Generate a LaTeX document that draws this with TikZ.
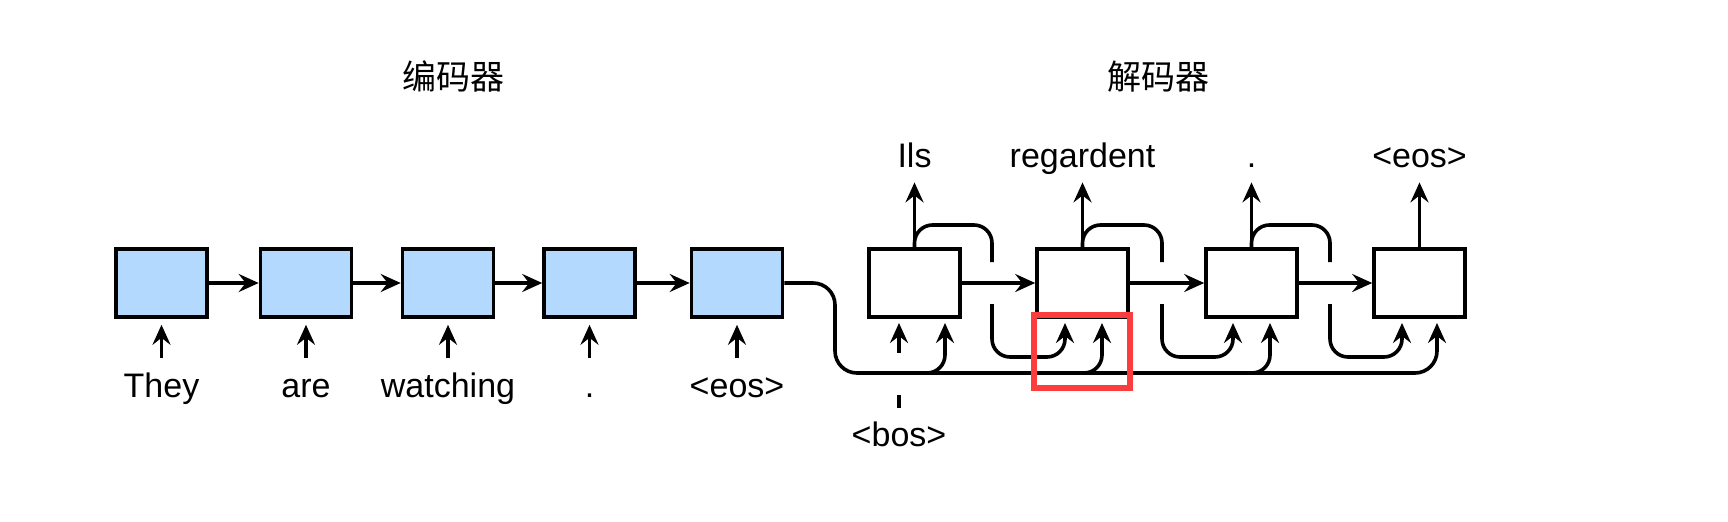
\documentclass[tikz,border=0pt]{standalone}
\usepackage{fontspec}
\setmainfont{Liberation Sans}
\newfontfamily\cjk{Noto Sans CJK SC}
\usetikzlibrary{arrows.meta}
\definecolor{encblue}{RGB}{179,217,255}
\definecolor{hlred}{RGB}{252,61,61}
\tikzset{
  arr/.style={-{Stealth[length=10pt,width=9pt,inset=3.5pt]}, line width=1.8pt},
  cell/.style={draw, line width=1.8pt, minimum width=45.5pt, minimum height=34pt, inner sep=0pt},
  word/.style={anchor=base, inner sep=0pt, text height=12pt, text depth=0pt, font=\fontsize{17pt}{20pt}\selectfont}
}

\begin{document}
\begin{tikzpicture}[x=0.5pt, y=0.5pt]
        \useasboundingbox (0,0) rectangle (1728,521);

        \begin{scope}[every node/.style={cell, fill=encblue}]
          \node (e1) at (161.5,238) {};
          \node (e2) at (306,238) {};
          \node (e3) at (448,238) {};
          \node (e4) at (589.5,238) {};
          \node (e5) at (737,238) {};
        \end{scope}

        \begin{scope}[every node/.style={cell, fill=white}]
          \node (d1) at (914.5,238) {};
          \node (d2) at (1082.5,238) {};
          \node (d3) at (1251.5,238) {};
          \node (d4) at (1419.5,238) {};
        \end{scope}

        \begin{scope}[every node/.style={word}]
          \node (w1) at (161.5,124) {They};
          \node (w2) at (306,124) {are};
          \node (w3) at (448,124) {watching};
          \node (w4) at (589.5,124) {.};
          \node (w5) at (737,124) {<eos>};
          \node (bos) at (899,75) {<bos>};
          \node (o1) at (914.5,354) {Ils};
          \node (o2) at (1082.5,354) {regardent};
          \node (o3) at (1251.5,354) {.};
          \node (o4) at (1419.5,354) {<eos>};
          \node[font=\cjk\fontsize{17pt}{20pt}\selectfont] (enc) at (453,432) {编码器};
          \node[font=\cjk\fontsize{17pt}{20pt}\selectfont] (dec) at (1158,432) {解码器};
        \end{scope}

        \coordinate (d1in1) at (899,198);
        \coordinate (d1in2) at (945,198);
        \coordinate (d2in1) at (1065,198);
        \coordinate (d2in2) at (1102,198);
        \coordinate (d3in1) at (1233,198);
        \coordinate (d3in2) at (1270,198);
        \coordinate (d4in1) at (1402,198);
        \coordinate (d4in2) at (1437,198);
        \coordinate (bus) at (835,148);

        \begin{scope}[every edge/.style={draw, arr}]
          \path (e1) edge (e2);
          \path (e2) edge (e3);
          \path (e3) edge (e4);
          \path (e4) edge (e5);
          \path (d1) edge (d2);
          \path (d2) edge (d3);
          \path (d3) edge (d4);
          \path (w1) edge[shorten <=7.5pt, shorten >=3pt] (e1);
          \path (w2) edge[shorten <=7.5pt, shorten >=3pt] (e2);
          \path (w3) edge[shorten <=7.5pt, shorten >=3pt] (e3);
          \path (w4) edge[shorten <=7.5pt, shorten >=3pt] (e4);
          \path (w5) edge[shorten <=7.5pt, shorten >=3pt] (e5);
          \path (d1) edge[shorten >=7.5pt] (o1);
          \path (d2) edge[shorten >=7.5pt] (o2);
          \path (d3) edge[shorten >=7.5pt] (o3);
          \path (d4) edge[shorten >=7.5pt] (o4);
        \end{scope}

        \begin{scope}[rounded corners=9pt]
          \draw[arr, rounded corners=11pt] (e5.east) -| (bus) -| (d4in2);
          \draw[arr] (d1in1 |- bus) -| (d1in2);
          \draw[arr] (d2in1 |- bus) -| (d2in2);
          \draw[arr] (d3in1 |- bus) -| (d3in2);
          \draw[arr] (d1.north) |- (992,296) -- (992,259) (992,217) -- (992,164) -| (d2in1);
          \draw[arr] (d2.north) |- (1162,296) -- (1162,259) (1162,217) -- (1162,164) -| (d3in1);
          \draw[arr] (d3.north) |- (1330,296) -- (1330,259) (1330,217) -- (1330,164) -| (d4in1);
          \draw[arr] ([yshift=7pt]bos.north) -- ++(0,13) ++(0,42) -- (d1in1);
        \end{scope}

        \node[draw=hlred, line width=3pt, minimum width=48pt, minimum height=36.5pt, inner sep=0pt] (hl) at (1082,169.5) {};

      \end{tikzpicture}
\end{document}
